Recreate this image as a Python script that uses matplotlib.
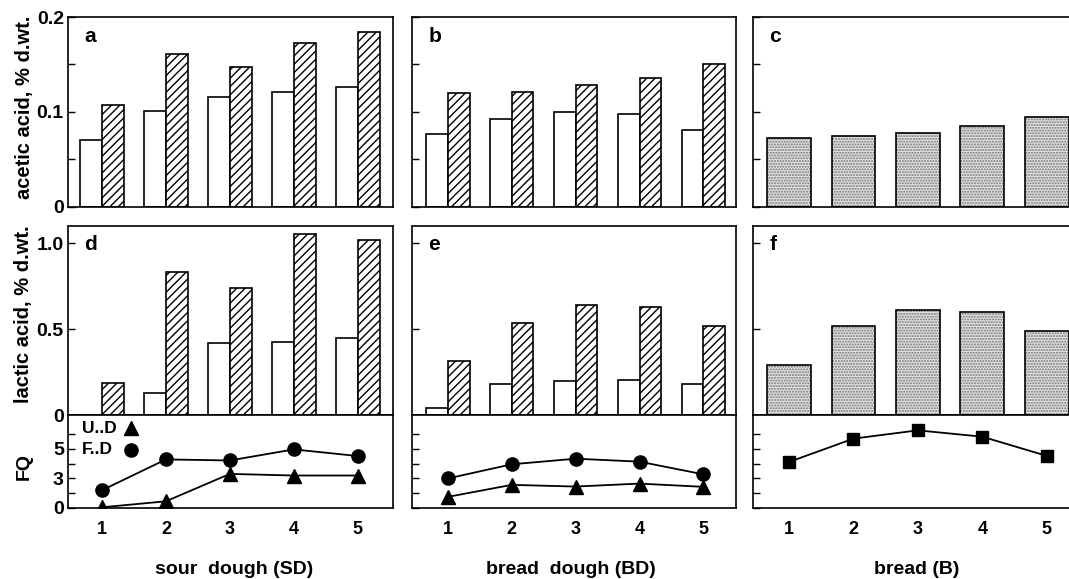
import numpy as np
import matplotlib.pyplot as plt

plt.rcParams['font.family'] = ['Liberation Sans', 'DejaVu Sans']
plt.rcParams['font.weight'] = 'bold'
plt.rcParams['hatch.linewidth'] = 1.0
plt.rcParams['axes.linewidth'] = 1.2

samples = np.array([1, 2, 3, 4, 5])

# acetic acid, % d.wt.  (u = unfermented / open bar, f = fermented / hatched)
acetic_sd_u = [0.070, 0.101, 0.116, 0.121, 0.126]
acetic_sd_f = [0.107, 0.161, 0.147, 0.173, 0.184]
acetic_bd_u = [0.077, 0.093, 0.100, 0.098, 0.081]
acetic_bd_f = [0.120, 0.121, 0.128, 0.136, 0.151]
acetic_b = [0.073, 0.075, 0.078, 0.085, 0.095]

# lactic acid, % d.wt.
lactic_sd_u = [0.0, 0.126, 0.418, 0.426, 0.450]
lactic_sd_f = [0.185, 0.830, 0.738, 1.053, 1.020]
lactic_bd_u = [0.042, 0.180, 0.198, 0.204, 0.178]
lactic_bd_f = [0.313, 0.533, 0.640, 0.630, 0.517]
lactic_b = [0.292, 0.518, 0.610, 0.600, 0.490]

# fermentation quotient
fq_sd_u = [0.07, 0.68, 3.31, 3.20, 3.20]
fq_sd_f = [1.80, 4.29, 4.22, 4.97, 4.52]
fq_bd_u = [1.13, 2.35, 2.18, 2.48, 2.15]
fq_bd_f = [3.00, 3.96, 4.34, 4.14, 3.28]
fq_b = [4.12, 5.70, 6.26, 5.83, 4.53]

fq_ticks = [0, 1.5, 3, 4, 5, 6]
fq_ticklabels = ['0', '', '3', '', '5', '']


# the FQ axis in the original is not linear: 0..3 is squeezed below 3..5
def fq_fwd(v):
    v = np.asarray(v, dtype=float)
    return np.where(v <= 3, v * 2 / 3, v - 1)


def fq_inv(p):
    p = np.asarray(p, dtype=float)
    return np.where(p <= 2, p * 1.5, p + 1)


W, H = 1069, 579
fig = plt.figure(figsize=(W / 100, H / 100), dpi=100)


def px_axes(left, top, right, bottom):
    return fig.add_axes([left / W, 1 - bottom / H, (right - left) / W, (bottom - top) / H])


cols = [(68, 393, (0.47, 5.55)), (412, 736, (0.44, 5.51)), (753, 1077, (0.44, 5.47))]
rows = [(17, 207), (226, 415), (415, 508)]

axes = [[px_axes(c[0], r[0], c[1], r[1]) for c in cols] for r in rows]

w = 0.34
lw = 1.2

top_data = [(acetic_sd_u, acetic_sd_f), (acetic_bd_u, acetic_bd_f), acetic_b]
mid_data = [(lactic_sd_u, lactic_sd_f), (lactic_bd_u, lactic_bd_f), lactic_b]
letters = [['a', 'b', 'c'], ['d', 'e', 'f']]

for r, (data, ylim) in enumerate([(top_data, (0, 0.2)), (mid_data, (0, 1.1))]):
    for c in range(3):
        ax = axes[r][c]
        d = data[c]
        if c < 2:
            ax.bar(samples - w / 2, d[0], w, facecolor='white', edgecolor='black', lw=lw)
            ax.bar(samples + w / 2, d[1], w, facecolor='white', edgecolor='black',
                   hatch='////', lw=lw)
        else:
            ax.bar(samples, d, 2 * w, facecolor='#e4e4e4', edgecolor='#707070',
                   hatch='......', lw=0)
            ax.bar(samples, d, 2 * w, fill=False, edgecolor='black', lw=lw)
        ax.set_xlim(cols[c][2])
        ax.set_ylim(ylim)
        ax.set_xticks([])
        if r == 0:
            ax.set_yticks([0, 0.1, 0.2])
            ax.set_yticks([0.05, 0.15], minor=True)
            labs = ['0', '0.1', '0.2']
        else:
            ax.set_yticks([0, 0.5, 1.0])
            labs = ['0', '0.5', '1.0']
        ax.set_yticklabels(labs if c == 0 else [''] * 3)
        ax.tick_params(axis='y', which='both', direction='in', length=5, width=1.0,
                       labelsize=14, pad=3)
        ax.text(0.05, 0.9, letters[r][c], transform=ax.transAxes, fontsize=15,
                fontweight='bold', va='center', ha='left')

fq_data = [(fq_sd_u, fq_sd_f), (fq_bd_u, fq_bd_f), fq_b]
for c in range(3):
    ax = axes[2][c]
    ax.set_yscale('function', functions=(fq_fwd, fq_inv))
    if c < 2:
        ax.plot(samples, fq_data[c][1], '-o', color='black', lw=1.3, ms=9.5)
        ax.plot(samples, fq_data[c][0], '-^', color='black', lw=1.3, ms=9.5)
    else:
        ax.plot(samples, fq_data[c], '-s', color='black', lw=1.3, ms=8.5)
    ax.set_xlim(cols[c][2])
    ax.set_ylim(0, 7.3)
    ax.set_xticks(samples)
    ax.set_xticklabels([str(s) for s in samples])
    ax.set_yticks(fq_ticks)
    ax.set_yticks([], minor=True)
    ax.set_yticklabels(fq_ticklabels if c == 0 else [''] * len(fq_ticks))
    ax.tick_params(axis='x', length=0, labelsize=13, pad=9)
    ax.tick_params(axis='y', direction='in', length=5, width=1.0, labelsize=14, pad=3)

# key in the SD panel: label first, symbol after
ax = axes[2][0]
for label, marker, yk in [('U..D', '^', 0.86), ('F..D', 'o', 0.625)]:
    ax.text(0.042, yk, label, transform=ax.transAxes, fontsize=12.5, fontweight='bold',
            ha='left', va='center')
    ax.plot([0.194], [yk], marker=marker, color='black', ms=9.5, ls='none',
            transform=ax.transAxes, clip_on=False)

fig.text(25 / W, 1 - 107 / H, 'acetic acid, % d.wt.', rotation=90, ha='center', va='center',
         fontsize=14.5, fontweight='bold')
fig.text(24 / W, 1 - 314 / H, 'lactic acid, % d.wt.', rotation=90, ha='center', va='center',
         fontsize=14.5, fontweight='bold')
fig.text(24 / W, 1 - 467 / H, 'FQ', rotation=90, ha='center', va='center',
         fontsize=14, fontweight='bold')

for xc, label in [(234, 'sour  dough (SD)'), (571, 'bread  dough (BD)'), (917, 'bread (B)')]:
    fig.text(xc / W, 1 - 569 / H, label, ha='center', va='center', fontsize=14,
             fontweight='bold')

fig.savefig('out.png', dpi=100)
